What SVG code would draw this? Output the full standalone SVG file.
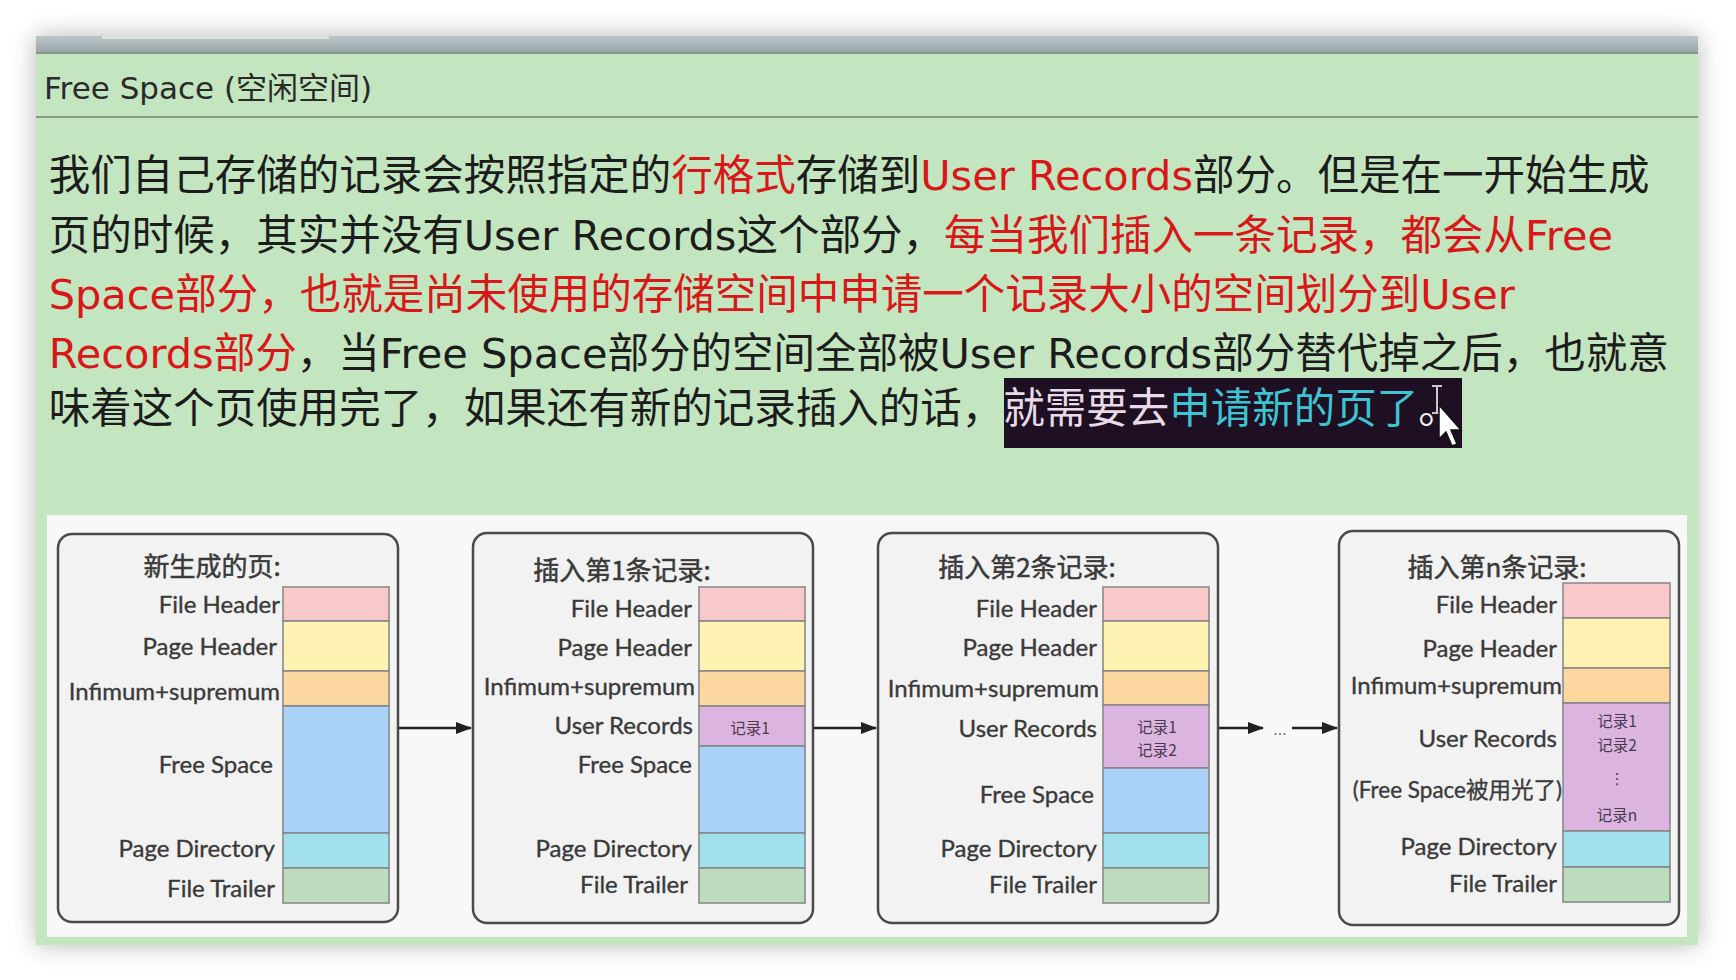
<svg xmlns="http://www.w3.org/2000/svg" width="1736" height="980" viewBox="0 0 1736 980">
<defs>
<filter id="sh" x="-10%" y="-10%" width="120%" height="120%"><feGaussianBlur stdDeviation="12"/></filter>
<marker id="ah" markerWidth="16" markerHeight="12" refX="15" refY="6" orient="auto" markerUnits="userSpaceOnUse"><path d="M0,0 L16,6 L0,12 z" fill="#222"/></marker>
<linearGradient id="bar" x1="0" y1="0" x2="0" y2="1"><stop offset="0" stop-color="#bcc5c7"/><stop offset="1" stop-color="#98a4a6"/></linearGradient>
</defs>
<style>
.para{font-family:"DejaVu Sans","Noto Sans CJK SC",sans-serif;font-size:41.5px;fill:#1c1c1c}
.r{fill:#d81818}
.box{fill:#f2f2f2;stroke:#4a4a4a;stroke-width:2.5}
.lbl{font-family:Lato,"Noto Sans CJK SC",sans-serif;font-size:24px;fill:#3a3a3a;stroke:#3a3a3a;stroke-width:0.35;text-anchor:end}
.ttl{font-family:"Noto Sans CJK SC",sans-serif;font-size:26px;fill:#3a3a3a;stroke:#3a3a3a;stroke-width:0.5;text-anchor:middle}
.rec{font-family:"Noto Sans CJK SC",sans-serif;font-size:15.5px;fill:#4a3a50;text-anchor:middle}
.seg{stroke:#858585;stroke-width:1.5}
.fh{fill:#f9c8cb}.ph{fill:#fdf2b2}.is{fill:#fcd8a0}.ur{fill:#dbb5e0}.fs{fill:#a9d3f8}.pd{fill:#a3e0ee}.ft{fill:#bddcbd}
.conn{stroke:#222;stroke-width:2.5;fill:none}
</style>
<rect x="0" y="0" width="1736" height="980" fill="#ffffff"/>
<rect x="36" y="36" width="1662" height="909" fill="#7a7a7a" opacity="0.55" filter="url(#sh)"/>
<g id="window">
<rect x="36" y="36" width="1662" height="909" fill="#c3e5c0"/>
<rect x="36" y="36" width="1662" height="17" fill="url(#bar)"/>
<rect x="102" y="36" width="227" height="3" fill="#dde2e2"/>
<rect x="36" y="52" width="1662" height="2" fill="#85968a"/>
<text x="44" y="99" style="font-family:'DejaVu Sans','Noto Sans CJK SC',sans-serif;font-size:31px;fill:#2a2a2a">Free Space (空闲空间)</text>
<rect x="36" y="116" width="1662" height="2" fill="#879887"/>
</g>
<g id="paragraph">
<text class="para" x="48.7" y="190">我们自己存储的记录会按照指定的<tspan class="r">行格式</tspan>存储到<tspan class="r">User Records</tspan>部分。但是在一开始生成</text>
<text class="para" x="48.7" y="250">页的时候，其实并没有User Records这个部分，<tspan class="r">每当我们插入一条记录，都会从Free</tspan></text>
<text class="para r" x="48.7" y="309">Space部分，也就是尚未使用的存储空间中申请一个记录大小的空间划分到User</text>
<text class="para" x="48.7" y="368"><tspan class="r">Records部分</tspan>，当Free Space部分的空间全部被User Records部分替代掉之后，也就意</text>
<rect x="1004" y="378" width="458" height="70" fill="#1e0f22"/>
<text class="para" x="48.7" y="423">味着这个页使用完了，如果还有新的记录插入的话，<tspan style="fill:#e6dbe6">就需要去</tspan><tspan style="fill:#3cc4d2">申请新的页了</tspan><tspan style="fill:#eeeeee">。</tspan></text>
<path d="M1432,386 h10 M1437,386 v27 M1432,413 h10" stroke="#c8c8c8" stroke-width="2" fill="none"/>
<path d="M1439,405 L1439,439 L1446,432 L1452,446 L1457,444 L1451,430 L1461,430 Z" fill="#ffffff" stroke="#111" stroke-width="1.5"/>
</g>
<rect x="47" y="515" width="1640" height="422" fill="#f8f8f8"/>
<g id="page-new">
<rect class="box" x="58" y="534" width="340" height="388" rx="14"/>
<text class="ttl" x="212" y="576">新生成的页:</text>
<rect class="seg fh" x="283" y="587" width="106" height="34"/>
<rect class="seg ph" x="283" y="621" width="106" height="50"/>
<rect class="seg is" x="283" y="671" width="106" height="35"/>
<rect class="seg fs" x="283" y="706" width="106" height="127"/>
<rect class="seg pd" x="283" y="833" width="106" height="35"/>
<rect class="seg ft" x="283" y="868" width="106" height="35"/>
<text class="lbl" x="280" y="613">File Header</text>
<text class="lbl" x="277" y="655">Page Header</text>
<text class="lbl" x="280" y="700">Infimum+supremum</text>
<text class="lbl" x="273" y="773">Free Space</text>
<text class="lbl" x="275" y="857">Page Directory</text>
<text class="lbl" x="275" y="897">File Trailer</text>
</g>
<g id="page-insert-1">
<rect class="box" x="473" y="533" width="340" height="390" rx="14"/>
<text class="ttl" x="622" y="580">插入第1条记录:</text>
<rect class="seg fh" x="699" y="587" width="106" height="34"/>
<rect class="seg ph" x="699" y="621" width="106" height="50"/>
<rect class="seg is" x="699" y="671" width="106" height="35"/>
<rect class="seg ur" x="699" y="706" width="106" height="40"/>
<rect class="seg fs" x="699" y="746" width="106" height="87"/>
<rect class="seg pd" x="699" y="833" width="106" height="35"/>
<rect class="seg ft" x="699" y="868" width="106" height="35"/>
<text class="rec" x="750" y="734">记录1</text>
<text class="lbl" x="692" y="617">File Header</text>
<text class="lbl" x="692" y="656">Page Header</text>
<text class="lbl" x="695" y="695">Infimum+supremum</text>
<text class="lbl" x="693" y="734">User Records</text>
<text class="lbl" x="692" y="773">Free Space</text>
<text class="lbl" x="692" y="857">Page Directory</text>
<text class="lbl" x="688" y="893">File Trailer</text>
</g>
<g id="page-insert-2">
<rect class="box" x="878" y="533" width="340" height="390" rx="14"/>
<text class="ttl" x="1027" y="577">插入第2条记录:</text>
<rect class="seg fh" x="1103" y="587" width="106" height="34"/>
<rect class="seg ph" x="1103" y="621" width="106" height="50"/>
<rect class="seg is" x="1103" y="671" width="106" height="34"/>
<rect class="seg ur" x="1103" y="705" width="106" height="63"/>
<rect class="seg fs" x="1103" y="768" width="106" height="65"/>
<rect class="seg pd" x="1103" y="833" width="106" height="35"/>
<rect class="seg ft" x="1103" y="868" width="106" height="35"/>
<text class="rec" x="1157" y="733">记录1</text>
<text class="rec" x="1157" y="756">记录2</text>
<text class="lbl" x="1097" y="617">File Header</text>
<text class="lbl" x="1097" y="656">Page Header</text>
<text class="lbl" x="1099" y="697">Infimum+supremum</text>
<text class="lbl" x="1097" y="737">User Records</text>
<text class="lbl" x="1094" y="803">Free Space</text>
<text class="lbl" x="1097" y="857">Page Directory</text>
<text class="lbl" x="1097" y="893">File Trailer</text>
</g>
<g id="page-insert-n">
<rect class="box" x="1339" y="531" width="340" height="394" rx="14"/>
<text class="ttl" x="1497" y="577">插入第n条记录:</text>
<rect class="seg fh" x="1563" y="583" width="107" height="35"/>
<rect class="seg ph" x="1563" y="618" width="107" height="50"/>
<rect class="seg is" x="1563" y="668" width="107" height="35"/>
<rect class="seg ur" x="1563" y="703" width="107" height="128"/>
<rect class="seg pd" x="1563" y="831" width="107" height="36"/>
<rect class="seg ft" x="1563" y="867" width="107" height="35"/>
<text class="rec" x="1617" y="727">记录1</text>
<text class="rec" x="1617" y="751">记录2</text>
<text class="rec" x="1617" y="784" style="font-family:'DejaVu Sans',sans-serif">⋮</text>
<text class="rec" x="1617" y="821">记录n</text>
<text class="lbl" x="1557" y="613">File Header</text>
<text class="lbl" x="1557" y="657">Page Header</text>
<text class="lbl" x="1562" y="694">Infimum+supremum</text>
<text class="lbl" x="1557" y="747">User Records</text>
<text class="lbl" x="1562" y="798" style="font-size:22.5px">(Free Space被用光了)</text>
<text class="lbl" x="1557" y="855">Page Directory</text>
<text class="lbl" x="1557" y="892">File Trailer</text>
</g>
<g id="connectors">
<line class="conn" x1="399" y1="728" x2="471" y2="728" marker-end="url(#ah)"/>
<line class="conn" x1="814" y1="728" x2="876" y2="728" marker-end="url(#ah)"/>
<line class="conn" x1="1219" y1="728" x2="1263" y2="728" marker-end="url(#ah)"/>
<text x="1280" y="735" style="font-family:'DejaVu Sans',sans-serif;font-size:14px;fill:#555;text-anchor:middle">...</text>
<line class="conn" x1="1292" y1="728" x2="1337" y2="728" marker-end="url(#ah)"/>
</g>
</svg>
